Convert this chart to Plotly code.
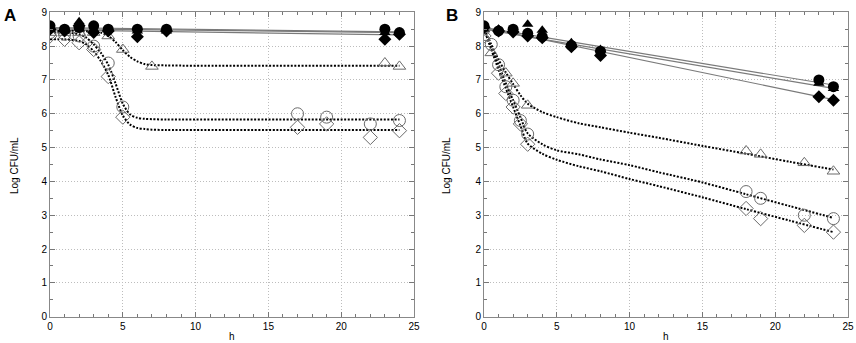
import plotly.graph_objects as go

# ---------------- Panel A data ----------------
tA_fill = [0, 1, 2, 3, 4, 6, 8, 23, 24]
A_fill_circle = [8.6, 8.5, 8.55, 8.6, 8.5, 8.5, 8.5, 8.5, 8.4]
A_fill_triangle = [8.55, 8.5, 8.72, 8.5, 8.5, 8.45, 8.45, 8.4, 8.4]
A_fill_diamond = [8.5, 8.45, 8.6, 8.4, 8.45, 8.28, 8.45, 8.2, 8.35]

tA_line = [0, 24]
A_line_circle = [8.55, 8.42]
A_line_triangle = [8.52, 8.4]
A_line_diamond = [8.48, 8.33]

tA_tri = [0, 1, 2, 3, 4, 5, 7, 23, 24]
A_open_triangle = [8.4, 8.4, 8.4, 8.4, 8.3, 7.9, 7.4, 7.5, 7.4]
tA_cd = [0, 1, 2, 3, 4, 5, 17, 19, 22, 24]
A_open_circle = [8.4, 8.35, 8.3, 8.0, 7.5, 6.2, 6.0, 5.9, 5.7, 5.8]
A_open_diamond = [8.3, 8.2, 8.1, 7.9, 7.1, 5.9, 5.6, 5.7, 5.3, 5.5]

tA_curve = [0, 1, 2, 2.5, 3, 3.5, 4, 4.5, 5, 5.5, 6, 6.5, 7, 8, 10, 24]
A_curve_triangle = [8.45, 8.45, 8.45, 8.44, 8.43, 8.4, 8.3, 8.12, 7.88, 7.68, 7.55, 7.47, 7.44, 7.43, 7.42, 7.42]
A_curve_circle = [8.4, 8.4, 8.35, 8.25, 8.05, 7.8, 7.45, 6.9, 6.3, 5.98, 5.88, 5.85, 5.84, 5.83, 5.83, 5.83]
A_curve_diamond = [8.2, 8.2, 8.15, 8.05, 7.85, 7.55, 7.15, 6.5, 5.95, 5.68, 5.58, 5.55, 5.53, 5.52, 5.52, 5.52]

# ---------------- Panel B data ----------------
tB_fill = [0, 1, 2, 3, 4, 6, 8, 23, 24]
B_fill_circle = [8.6, 8.45, 8.5, 8.38, 8.28, 8.02, 7.85, 7.0, 6.8]
B_fill_triangle = [8.5, 8.5, 8.5, 8.65, 8.47, 8.1, 7.9, 6.9, 6.75]
B_fill_diamond = [8.55, 8.45, 8.42, 8.3, 8.25, 7.98, 7.72, 6.5, 6.4]

tB_line = [0, 24]
B_line_circle = [8.55, 6.85]
B_line_triangle = [8.5, 6.75]
B_line_diamond = [8.55, 6.42]

tB_tri = [0, 0.5, 1.5, 2, 3, 18, 19, 22, 24]
B_open_triangle = [8.25, 7.8, 7.2, 6.9, 6.25, 4.9, 4.8, 4.55, 4.3]
tB_circ = [0, 0.5, 1, 1.5, 2, 2.5, 3, 18, 19, 22, 24]
B_open_circle = [8.5, 8.05, 7.45, 6.8, 6.4, 5.8, 5.4, 3.7, 3.5, 3.0, 2.9]
tB_diam = [0, 1, 1.5, 2, 2.5, 3, 18, 19, 22, 24]
B_open_diamond = [8.3, 7.2, 6.6, 6.2, 5.7, 5.1, 3.2, 2.9, 2.7, 2.5]

tB_curve = [0, 0.5, 1, 1.5, 2, 2.5, 3, 4, 5, 6.5, 8, 10, 12, 15, 18, 21, 24]
B_curve_triangle = [8.5, 8.05, 7.6, 7.22, 6.88, 6.55, 6.3, 6.05, 5.9, 5.72, 5.6, 5.44, 5.29, 5.05, 4.82, 4.58, 4.35]
B_curve_circle = [8.5, 7.95, 7.45, 6.9, 6.4, 5.9, 5.42, 5.1, 4.92, 4.8, 4.65, 4.48, 4.27, 3.97, 3.62, 3.27, 2.92]
B_curve_diamond = [8.5, 7.9, 7.3, 6.75, 6.2, 5.65, 5.12, 4.82, 4.64, 4.45, 4.3, 4.07, 3.86, 3.53, 3.18, 2.84, 2.5]

x_ticks = [0, 5, 10, 15, 20, 25]
y_ticks = [0, 1, 2, 3, 4, 5, 6, 7, 8, 9]

GREY_LINE = "#7a7a7a"
OPEN_EDGE = "#6a6a6a"

fig = go.Figure()


def add_panel(xa, ya, t_line, lines, t_fill, fills, curves, opens):
    for yv in lines:
        fig.add_trace(go.Scatter(x=t_line, y=yv, mode="lines", xaxis=xa, yaxis=ya,
                                 line=dict(color=GREY_LINE, width=1.2), showlegend=False,
                                 hoverinfo="skip"))
    tc, cvs = curves
    for yv in cvs:
        fig.add_trace(go.Scatter(x=tc, y=yv, mode="lines", xaxis=xa, yaxis=ya,
                                 line=dict(color="black", width=2, dash="2px,1.6px", shape="spline",
                                           smoothing=0.8),
                                 showlegend=False, hoverinfo="skip"))
    for (tt, yv, sym, sz) in opens:
        fig.add_trace(go.Scatter(x=tt, y=yv, mode="markers", xaxis=xa, yaxis=ya,
                                 marker=dict(symbol=sym, size=sz, color="rgba(255,255,255,0)",
                                             line=dict(color=OPEN_EDGE, width=1)),
                                 showlegend=False))
    for (yv, sym, sz) in fills:
        fig.add_trace(go.Scatter(x=t_fill, y=yv, mode="markers", xaxis=xa, yaxis=ya,
                                 marker=dict(symbol=sym, size=sz, color="black",
                                             line=dict(color="black", width=0)),
                                 showlegend=False))


add_panel("x", "y", tA_line, [A_line_circle, A_line_triangle, A_line_diamond],
          tA_fill,
          [(A_fill_triangle, "triangle-up", 10), (A_fill_diamond, "diamond", 10),
           (A_fill_circle, "circle", 11)],
          (tA_curve, [A_curve_triangle, A_curve_circle, A_curve_diamond]),
          [(tA_tri, A_open_triangle, "triangle-up", 11),
           (tA_cd, A_open_circle, "circle", 12),
           (tA_cd, A_open_diamond, "diamond", 11)])

add_panel("x2", "y2", tB_line, [B_line_circle, B_line_triangle, B_line_diamond],
          tB_fill,
          [(B_fill_triangle, "triangle-up", 10), (B_fill_diamond, "diamond", 10),
           (B_fill_circle, "circle", 11)],
          (tB_curve, [B_curve_triangle, B_curve_circle, B_curve_diamond]),
          [(tB_tri, B_open_triangle, "triangle-up", 11),
           (tB_circ, B_open_circle, "circle", 12),
           (tB_diam, B_open_diamond, "diamond", 11)])

W, H = 856, 343


def px(x):
    return x / W


def py(y):
    return 1 - y / H


axA = (px(50), px(414))
axB = (px(484), px(848))
ydom = (py(316.7), py(12.3))

font = dict(family="Liberation Sans, Arial, sans-serif", size=10, color="black")


def xaxis_cfg(dom, anchor):
    return dict(domain=dom, anchor=anchor, range=[0, 25], tickvals=x_ticks,
                ticks="inside", ticklen=5, tickcolor="#777", mirror="allticks",
                showline=True, linecolor="#888", linewidth=1, automargin=False,
                showgrid=True, gridcolor="#bdbdbd", griddash="1px,2px", gridwidth=1,
                zeroline=False, tickfont=font,
                minor=dict(dtick=1, ticks="inside", ticklen=3, tickcolor="#777", showgrid=False))


def yaxis_cfg(anchor):
    return dict(domain=ydom, anchor=anchor, range=[0, 9], tickvals=y_ticks,
                ticks="inside", ticklen=5, tickcolor="#777", mirror="allticks",
                showline=True, linecolor="#888", linewidth=1, automargin=False,
                showgrid=True, gridcolor="#bdbdbd", griddash="1px,2px", gridwidth=1,
                zeroline=False, tickfont=font,
                minor=dict(dtick=0.5, ticks="inside", ticklen=3, tickcolor="#777", showgrid=False))


fig.update_layout(
    width=W, height=H,
    margin=dict(l=0, r=0, t=0, b=0, autoexpand=False),
    paper_bgcolor="white", plot_bgcolor="white",
    font=font,
    xaxis=xaxis_cfg(axA, "y"),
    yaxis=yaxis_cfg("x"),
    xaxis2=xaxis_cfg(axB, "y2"),
    yaxis2=yaxis_cfg("x2"),
    showlegend=False,
)

big = dict(size=17, family="Liberation Sans, Arial", color="black")
annots = [
    dict(text="<b>A</b>", x=px(10), y=py(15), font=big),
    dict(text="<b>B</b>", x=px(452), y=py(15), font=big),
    dict(text="h", x=px(232), y=py(336), font=font),
    dict(text="h", x=px(666), y=py(336), font=font),
    dict(text="Log CFU/mL", x=px(14), y=py(166), textangle=-90, font=font),
    dict(text="Log CFU/mL", x=px(446), y=py(166), textangle=-90, font=font),
]
for a in annots:
    fig.add_annotation(xref="paper", yref="paper", xanchor="center", yanchor="middle",
                       showarrow=False, **a)

fig.write_html("out.html", config={"displayModeBar": False},
               post_script="document.body.style.margin='0';document.body.style.padding='0';")
